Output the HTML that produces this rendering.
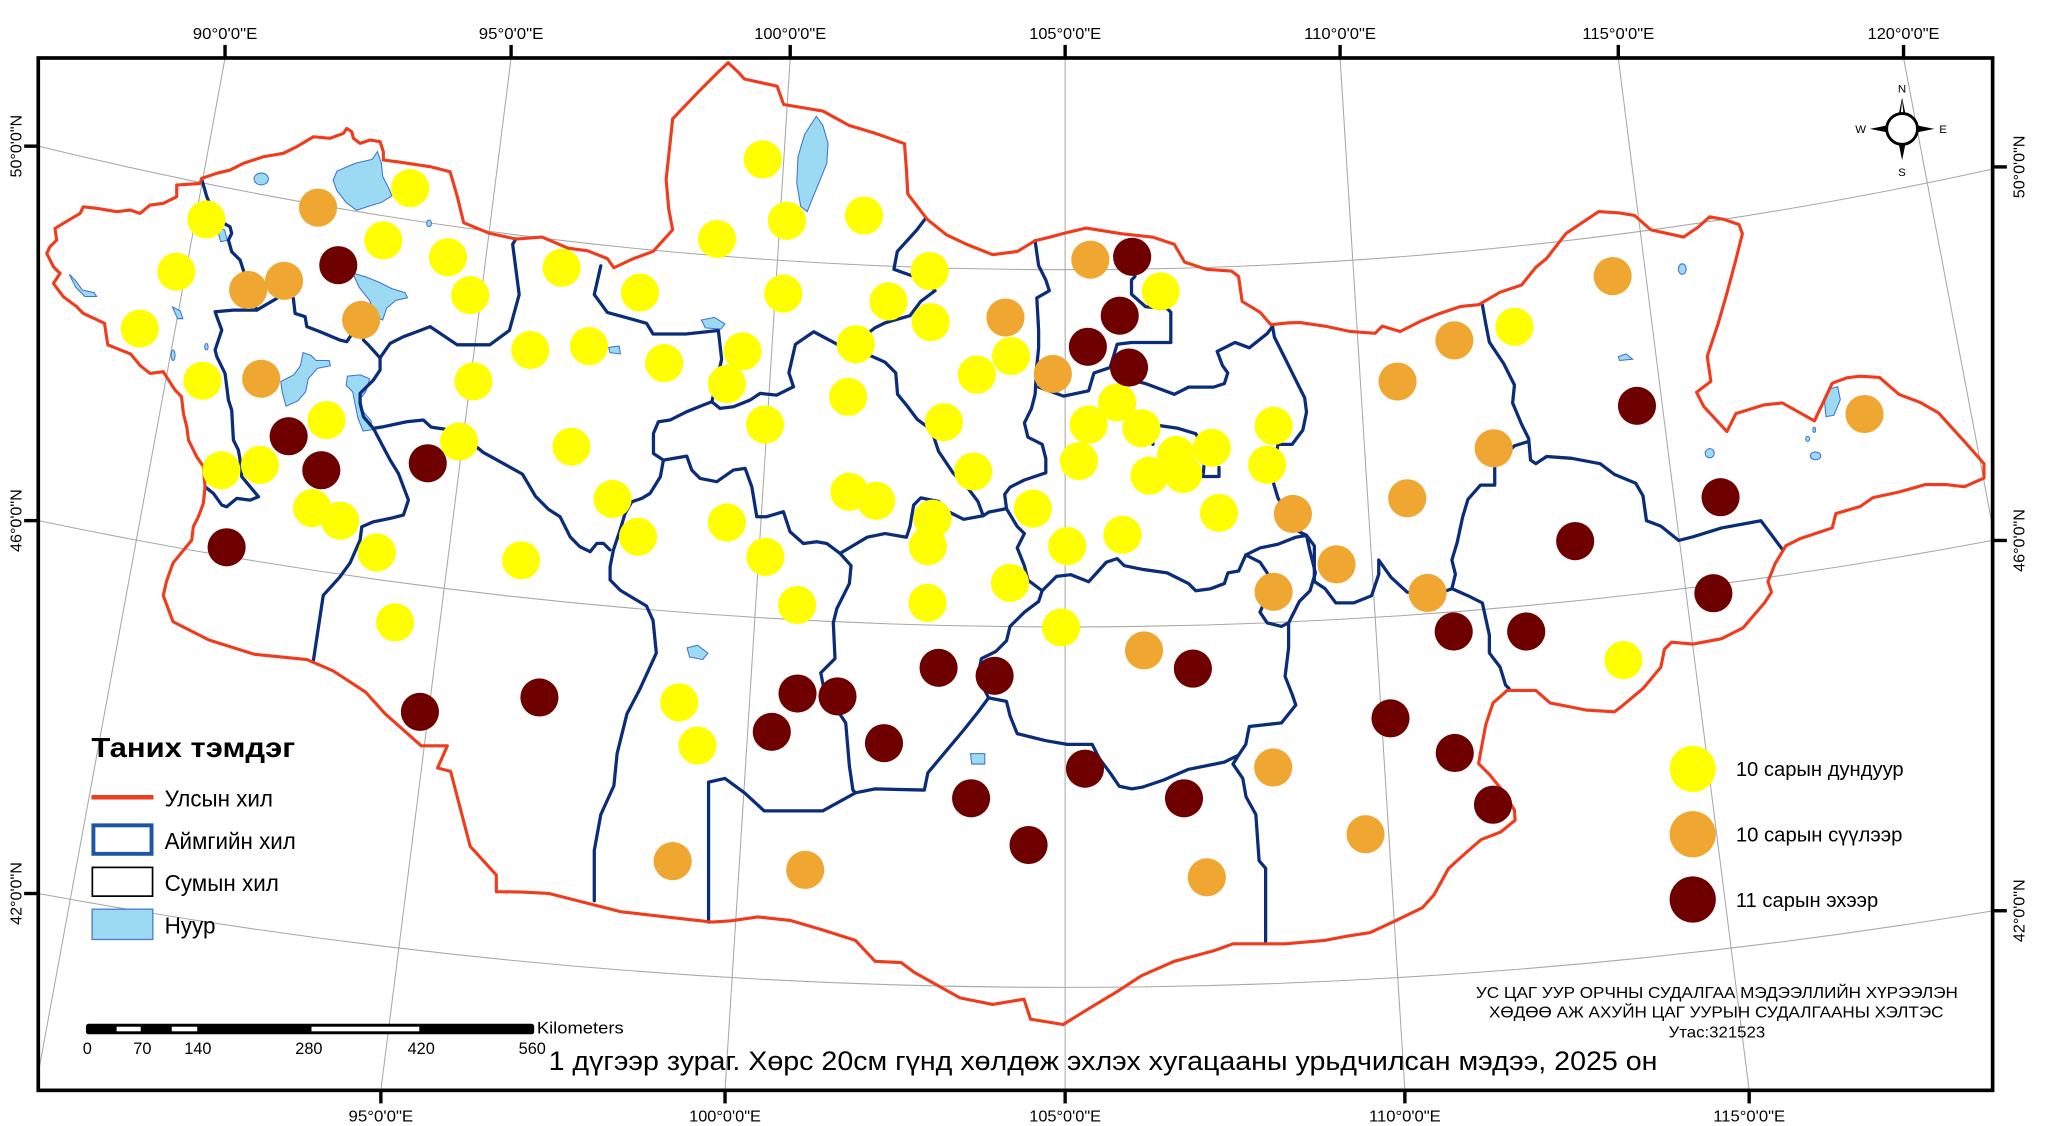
<!DOCTYPE html>
<html><head><meta charset="utf-8"><style>
html,body{margin:0;padding:0;background:#fff;}
svg{display:block;}
text{font-family:"Liberation Sans",Arial,sans-serif;fill:#000;}
</style></head><body>
<svg xmlns="http://www.w3.org/2000/svg" width="2048" height="1126" viewBox="0 0 1568 862.1" preserveAspectRatio="none">
<defs><clipPath id="fr"><rect x="29.3" y="44.4" width="1496.3" height="790.4"/></clipPath></defs>
<rect x="0" y="0" width="1568" height="862.1" fill="#fff"/>
<g clip-path="url(#fr)" stroke="#a8a8a8" stroke-width="0.8" fill="none">
<line x1="172.3" y1="44.4" x2="26.9" y2="834.8"/>
<line x1="391.3" y1="44.4" x2="291.6" y2="834.8"/>
<line x1="605" y1="44.4" x2="555.1" y2="834.8"/>
<line x1="815.5" y1="44.4" x2="815.5" y2="834.8"/>
<line x1="1026" y1="44.4" x2="1075.6" y2="834.8"/>
<line x1="1239" y1="44.4" x2="1339.2" y2="834.8"/>
<line x1="1457.4" y1="44.4" x2="1607.6" y2="834.8"/>
<path d="M 29.3 111.9 A 3314 3314 0 0 0 1525.6 129.5"/>
<path d="M 29.3 398.6 A 3837 3837 0 0 0 1525.6 413.7"/>
<path d="M 29.3 684.1 A 4334 4334 0 0 0 1525.6 697.4"/>
</g>
<g fill="#9cd9f2" stroke="#3f73cf" stroke-width="0.8">
<path d="M258 131 L272 125 L285 122 L289 116 L292 125 L293 135 L298 145 L300 150 L292 155 L282 158 L273 161 L265 155 L258 146 L255 138 Z"/>
<path d="M625 89 L630 96 L634 110 L633 125 L627 140 L622 152 L618 162 L613 158 L610 140 L611 120 L616 103 Z"/>
<path d="M270 209 L280 212 L290 216 L300 221 L310 224 L312 228 L303 230 L296 236 L293 245 L288 243 L283 230 L275 220 Z"/>
<path d="M232 270 L238 272 L242 276 L252 276 L253 280 L243 282 L236 290 L234 300 L228 307 L219 311 L216 300 L215 292 L225 287 L230 280 Z"/>
<path d="M266 288 L276 287 L283 290 L280 300 L276 305 L278 315 L284 322 L285 329 L278 330 L274 320 L270 300 L265 295 Z"/>
<ellipse cx="200" cy="137" rx="5.5" ry="4.5"/>
<path d="M166 174 L172 176 L174 184 L169 185 Z"/>
<path d="M537 245 L547 243 L555 248 L552 252 L540 251 Z"/>
<path d="M466 266 L474 265 L475 271 L467 270 Z"/>
<path d="M526 496 L534 494 L542 500 L538 505 L528 503 Z"/>
<path d="M743 577 L754 577 L754 585 L744 585 Z"/>
<path d="M1400 298 L1407 296 L1409 306 L1404 318 L1398 319 L1397 308 Z"/>
<path d="M1239 273 L1245 271 L1250 275 L1240 276 Z"/>
<ellipse cx="1288" cy="206" rx="3" ry="4"/>
<ellipse cx="1309" cy="347" rx="3.5" ry="3.5"/>
<ellipse cx="1390" cy="349" rx="4" ry="3"/>
<ellipse cx="1384" cy="336" rx="1.5" ry="2"/>
<ellipse cx="1389" cy="329" rx="1" ry="2"/>
<path d="M53 210 L58 215 L63 222 L72 224 L74 227 L65 227 L58 220 Z"/>
<path d="M132 235 L138 238 L140 244 L136 244 Z"/>
<ellipse cx="132.5" cy="272" rx="1.5" ry="4"/>
<ellipse cx="158" cy="265.5" rx="1.3" ry="2.5"/>
<ellipse cx="328.5" cy="171" rx="1.8" ry="2.5"/>
</g>
<g fill="none" stroke="#0b2d79" stroke-width="2.5" stroke-linejoin="round" stroke-linecap="round">
<polyline points="154.4,137 158.3,150.6 166,168 176.1,173.6 177.4,178.7 174.9,183.8 177.4,192.7 183.8,199.1 186.3,206.8 190,222 196.6,237.4 178.7,237.4 164.7,238.7 166,242.5 169.8,252.7 164.7,268 166,273.1 172.3,285.9 174.9,306.3 177.4,314 178.7,336.9 182.5,344.6 183.8,352.2 185.1,365 197.9,380.3 191.5,382.9 181.3,381.6 173.6,388 169.8,386.7 163.4,377.8 157,372.7"/>
<polyline points="196.6,237.4 211.9,228.5 217.7,215 224.6,228.5 225.9,240 233.6,242.5 234.9,250.1 245.1,254 260.4,260.4 265.5,261.6 268,257.8 277,248 278.3,260.4 282.1,264.2 291,274 298.7,262.9 308.9,257.8 319.1,254 329.3,250.1 350,264 375,264 390,253 397.5,225.5 392.5,187 395,183"/>
<polyline points="291,274 291,283.3 285.9,291 275.7,301.2 275.7,308.9 278.3,319.1 285.9,328 293.6,326.7 311.4,322.9 324.2,321.6 330,327 350,330 370,346.4 400,363 410,380 420,390 428.8,395.6 436.5,411 444,418.6 451.8,422.4 457,416 462,416 467,421"/>
<polyline points="285.9,328 298.7,352.2 305,362.4 308.9,372.7 312.7,382.9 308.9,394.3 298.7,396.9 285.9,399.5 277,403.3 275.7,413.5 268,431 260,442 247.5,455.8 245,472.3 240,505.3"/>
<polyline points="460,203.5 455,225.5 465,239.2 495,247.5 500,255.7 525,255.7 550,253 552.5,275 548,295 545,307.6"/>
<polyline points="607.5,296.1 604,285.5 609,263.6 623,254 641,263.6 655,266 665.3,271.8"/>
<polyline points="708,168 702,176 687,192.5 684.4,206.2 699.5,211.6 710.4,217.1 715.9,222.6 704.9,230.8 696.7,241.7 677.6,247.2 669.4,251.3 661,258 655,266"/>
<polyline points="665.3,271.8 677.6,277.3 685.8,285.5 687.2,301.9 694,310.1 702.2,321 713.2,329.2 715.9,337.4 718.6,345.6 729.6,362 740.5,373 748.7,383.9 752.8,394.9"/>
<polyline points="607.5,296.1 594.7,302.5 582,301.2 574.3,306.3 561.5,311.4 551.3,312.7 545,307.6 538.5,310.1 525.8,315.2 513,321.6 504.1,322.9 500.3,331.8 500.3,347.2 507.9,352.3 525.8,349.2 529.6,359.9 536,366.3 548.8,368.8 561.5,359.9 570.5,358.6 575.6,372.7 579.4,395.6 587,395.6 599.8,391.8 604.9,407.1 615.1,416.1 625.3,414.8 633,416.1 643.2,423.7 664,411.3 677.6,408.5 694,411.3 696.7,403.1 699.5,386.7 705,381.2 718.6,383.9 726.8,392.1 737.8,397.6 752.8,394.9 757,392.1 770.6,389.4"/>
<polyline points="792.5,184.3 795.2,203.4 800.7,214.4 803.4,222.6 793.8,228.1 795.2,252.7 795.2,266.3 793.8,280 792.5,301.9 789.7,312.8 784.3,323.8 787,334.7 797.9,340.2 800.7,351.1 800.7,362 784.3,367.5 773.3,373 769.2,378.5 770.6,389.4 778.8,403.1 784.3,408.5 778.8,419.5 784.3,433.1 787,444.1 797.9,452.3 808.9,441.3 819.8,440 833.5,445.4 847.1,430.4 855.3,427.7 860.8,433.1 874.5,435.9 893.6,438.6 910,446.8 915.5,452.3 926.4,450.9 937.4,446.8 940.1,438.6 948.3,437.2 953.8,424.9 964.7,419.5 978.4,416.7 992.1,411.3 1000.3,409.9"/>
<polyline points="797.9,452.3 795.2,460.5 784.3,468.7 773.3,479.6 770.6,490.6 762.4,498.8 751.4,504.2 748.7,517.9 756.9,534.3 770.6,537 773.3,548 778.8,561.7 800.7,567.1 817.1,569.9 836.2,569.9 841.7,580.8 849.9,591.7 857,602 866.5,604 874.5,602.7 890.9,597.2 910,589 937.4,583.5 948.3,578.1 953.8,569.9 956.5,556.2 981.1,553.5 992.1,539.8 989.3,531.6 983.9,517.9 986.6,496 986.6,476.9 981.1,479.6 970.2,476.9 964.7,468.7 972.9,449.5 970.2,438.6 964.7,430.4 953.8,424.9"/>
<polyline points="756.9,534.3 748.7,545.3 737.8,559 724.1,575.3 710.4,591.7 707.7,604.9 670,604 655,607 630,620.8 585,620.8 570,607 555,596 542.5,598.8 542.5,706"/>
<polyline points="643.2,423.7 651.6,433.1 650.3,446.8 640.7,466 638,476.9 639.3,504.2 628.4,515.2 631.1,528.8 642.1,545.3 647.5,553.5 650.3,586.3 653,604.9 655,607"/>
<polyline points="507.9,352.3 505.6,365 497.7,377.8 491.3,381.6 483.7,384.2 478.6,393.1 474.7,405.9 469.6,421.2 467.1,434 467.1,444 475,452 495,464 500,475 502.5,500 490,527.4 480,546.6 472.5,576.8 470,601.6 460,623.6 455,651.1 455,689.6"/>
<polyline points="948.3,578.1 944,585 951.5,596 954,610 961.5,623.6 964,659 969,664.8 969,722.6"/>
<polyline points="974.3,249.9 975.7,258.1 983.9,274.5 992.1,291 998.9,304.6 1000.3,315.6 997.5,329.2 989.3,340.2 978.4,340.2 974.3,367.5 978.4,381.2 992.1,405.8 1000.3,409.9 1003,422.2 1007.1,438.6 1003,452.3 994.8,460.5 986.6,476.9"/>
<polyline points="1000.3,409.9 1006.3,417.9 1006.3,445.2 1014.5,450.7 1022.7,461.6 1036.4,461.6 1050.1,456.1 1055.6,439.7 1055.6,428.8 1065,442 1077.4,453.4 1100,455 1111.6,450.7"/>
<polyline points="1155.4,527.2 1152.7,524.5 1148.5,510.8 1140.3,499.9 1140.3,486.2 1134.9,461.6 1123.9,456.1 1111.6,450.7 1114.3,439.7 1111.6,428.8 1115.7,415.1 1119.8,396 1123.9,382.3 1133.5,371.4 1144.4,371.4 1144.4,356 1159.5,341.3 1170.4,338"/>
<polyline points="1134.9,233.3 1137.6,248.3 1140.3,262 1151.3,278.4 1159.5,294.8 1158.1,308.5 1165,324.9 1170.4,335.8 1171.8,352.2 1175.9,355 1184.1,349.5 1203.2,350.9 1225.1,355 1236,363.2 1252.4,370 1257.9,379.6 1260.6,398.7 1271.6,402.8 1285.3,413.8 1296.2,411 1318.1,404.2 1348.2,398.7 1364.6,420.6"/>
<polyline points="866,200 869,211.7 866.3,214.4 866.3,225.3 877.2,234.9 893.6,236.3 896.4,239 896.4,262.2 882.7,262.2 866.3,262.2 855.3,263.6 849.9,281.4 837.6,285.5 833.5,299.2 814.3,303.3 795.2,296.4"/>
<polyline points="974.3,249.9 970.2,255.4 956.5,266.3 945.6,262.2 931.9,269.1 936,280 940,285.5 937.4,293.7 929.2,296.4 910,296.4 899.1,301.9 877.2,293.7 866.3,291 858,289"/>
<polyline points="882.7,340.2 882.7,325.1 901.8,327.9 915.5,332 923,345 921,364.8 933.3,364.8 933.3,357.9"/>
</g>
<polygon fill="none" stroke="#f03c1c" stroke-width="2.4" stroke-linejoin="round" points="35.8,194 38.3,188.9 43.4,183.8 42.1,174.9 48.5,171 61.3,163.4 63.8,158.3 74,159.5 89.4,162.1 99.6,160.8 107.2,163.4 114.9,157 125.1,155.7 135.3,150.6 135.3,141.7 153.2,140.4 154.4,136.6 165.9,132.7 176.1,130.2 186.3,125.1 201.7,120 217,117.4 227.2,112.3 240,104.7 252.7,105.9 262.9,102.1 265.5,98.3 269.3,100.8 270.6,105.9 275.7,109.8 283.3,107.2 291,108.5 293.5,116.2 293.5,122.5 303.7,123.8 329.3,127.6 344.6,131.5 350,150 355,170.5 375,178.7 395,183 415,181.5 435,190 450,192 465,198 470,205 485,198 500,192.5 515,176 512,160 510,137.5 513,110 515,91 535,70 550,55 557.5,48 565,55 570,60.5 595,66 600,80 630,85 650,96 670,102 692.5,110 694,130 695,148.5 710,168 725,180 740,187 760,195 779,192.5 792.5,184.3 804,181.5 814,178.8 831.5,174.6 859,179 882.7,181.6 899,187 907,200.7 923.7,206.2 942.8,207.5 948.3,211.7 951,230.8 964.7,239 973,248.6 986.6,247.2 995.4,247 1014.5,249.7 1033.7,253.8 1052.8,255.2 1058.3,249.7 1072,253.8 1088.4,245.6 1102,240.1 1118.5,234.6 1132.1,233.3 1148.5,223.7 1165,218.2 1175.9,204.6 1184,198 1199,178.7 1224,162 1240,163 1251.5,165 1264,176 1289,181.5 1300,174 1309,166 1320,168 1331.5,172 1334,179 1329,199 1322,225 1315.3,248.3 1307.1,272.9 1309.9,292 1298.9,300.3 1304.4,311.2 1322.2,330.4 1329,316.7 1350.9,309.9 1364.6,308.5 1389.2,322.2 1402.8,293.4 1413.8,289.3 1424.2,288 1439,289 1454,302 1470,308 1484,316 1504,338 1519,355 1519,366 1504,372.6 1490,371 1474,371 1454,376.7 1434,381 1424.2,387.8 1405.6,393.2 1402.8,404.2 1378.2,412.4 1367.3,417.9 1359.1,431.5 1353.6,445.2 1356.3,453.4 1350.9,461.6 1334.5,480.7 1318.1,489 1296.2,493.1 1279.8,491.7 1274.3,497.2 1271.6,510.8 1257.9,527.2 1241.5,540.9 1236,545 1214.2,543.6 1186.8,538.2 1175.9,528.6 1154,528.6 1143.1,538.2 1137.6,554.6 1133.5,576.5 1132.1,584.7 1140.3,592.9 1151.3,606.5 1159.5,620.2 1160,628 1149,637 1134,642.8 1120,655 1109,665 1098,685 1089,695 1069,704.7 1049,714 1030,717 1014,720 984,722.6 969,722.6 944,722.6 929,728 899,736 874,747 854,760 834,772 814,784.4 789,780.3 784,765 760,769 735,764 700,744.5 690,737 670,736 655,720 630,712 605,704.7 580,702 560,705 545,706 510,702 475,698 420,684 400,683 380,682.7 380,670 360,648 345,590.6 335,588 342.5,571 322.5,571 295,546.6 280,530 255,513.6 235,505 195,501 160,490 132.5,476 125,456 127.5,445 132.5,431 146.8,413.5 148,403.3 151.9,395.6 155.7,385.4 157,372.7 155.7,357.3 150.6,349.7 144.3,336.9 143,326.7 140.4,316.5 139,303.7 134,298.6 125,284.6 114.9,285.9 107.5,280 100,271 82.5,264 80,247.5 63.8,240 58.7,234.8 48.5,227.2 40.9,217 46,209.3 40.9,204.2"/>
<g fill="#ffff00">
<circle cx="314" cy="144" r="14.6"/><circle cx="158" cy="168" r="14.6"/><circle cx="293.5" cy="184" r="14.6"/><circle cx="343" cy="197" r="14.6"/><circle cx="135" cy="208" r="14.6"/><circle cx="360" cy="226" r="14.6"/><circle cx="430" cy="205" r="14.6"/><circle cx="107" cy="251.6" r="14.6"/><circle cx="490" cy="224" r="14.6"/><circle cx="584" cy="122" r="14.6"/><circle cx="602.5" cy="169" r="14.6"/><circle cx="661.5" cy="165" r="14.6"/><circle cx="549" cy="183" r="14.6"/><circle cx="711.8" cy="207.5" r="14.6"/><circle cx="599.7" cy="224.8" r="14.6"/><circle cx="680.3" cy="230.8" r="14.6"/><circle cx="712.6" cy="246.6" r="14.6"/><circle cx="406" cy="268" r="14.6"/><circle cx="451" cy="265" r="14.6"/><circle cx="508.5" cy="278" r="14.6"/><circle cx="568.5" cy="269" r="14.6"/><circle cx="556.5" cy="294" r="14.6"/><circle cx="655.2" cy="263.6" r="14.6"/><circle cx="649.4" cy="303.8" r="14.6"/><circle cx="747.9" cy="286.8" r="14.6"/><circle cx="774.1" cy="272.6" r="14.6"/><circle cx="155" cy="291.5" r="14.6"/><circle cx="362.5" cy="292" r="14.6"/><circle cx="250" cy="321.7" r="14.6"/><circle cx="585.7" cy="325.1" r="14.6"/><circle cx="722.7" cy="323.2" r="14.6"/><circle cx="351.5" cy="338" r="14.6"/><circle cx="437.5" cy="342" r="14.6"/><circle cx="169.5" cy="360" r="14.6"/><circle cx="199" cy="356" r="14.6"/><circle cx="745.2" cy="361" r="14.6"/><circle cx="469" cy="382" r="14.6"/><circle cx="650.3" cy="376.5" r="14.6"/><circle cx="670.8" cy="383.4" r="14.6"/><circle cx="239" cy="389" r="14.6"/><circle cx="260.5" cy="398.7" r="14.6"/><circle cx="556.5" cy="400" r="14.6"/><circle cx="714" cy="397.1" r="14.6"/><circle cx="710.4" cy="418.1" r="14.6"/><circle cx="488.5" cy="411" r="14.6"/><circle cx="288.5" cy="423" r="14.6"/><circle cx="399" cy="429" r="14.6"/><circle cx="586" cy="426.3" r="14.6"/><circle cx="302.5" cy="476.5" r="14.6"/><circle cx="610.3" cy="463.2" r="14.6"/><circle cx="710.1" cy="461.6" r="14.6"/><circle cx="773.3" cy="446.3" r="14.6"/><circle cx="520" cy="537.8" r="14.6"/><circle cx="534" cy="570.8" r="14.6"/><circle cx="888.7" cy="223.1" r="14.6"/><circle cx="855.3" cy="308.2" r="14.6"/><circle cx="833.5" cy="325.1" r="14.6"/><circle cx="873.9" cy="327.9" r="14.6"/><circle cx="826.1" cy="353" r="14.6"/><circle cx="880" cy="364.2" r="14.6"/><circle cx="900.5" cy="348.4" r="14.6"/><circle cx="927.8" cy="342.9" r="14.6"/><circle cx="905.9" cy="362.9" r="14.6"/><circle cx="975.1" cy="326" r="14.6"/><circle cx="970.2" cy="355.8" r="14.6"/><circle cx="790.8" cy="389.4" r="14.6"/><circle cx="933.3" cy="392.7" r="14.6"/><circle cx="859.4" cy="409.4" r="14.6"/><circle cx="817.1" cy="418.1" r="14.6"/><circle cx="1159.5" cy="250.2" r="14.6"/><circle cx="812.4" cy="480.4" r="14.6"/><circle cx="1242.9" cy="505.4" r="14.6"/>
</g>
<g fill="#f0a732">
<circle cx="243.5" cy="159" r="14.6"/><circle cx="190" cy="222" r="14.6"/><circle cx="217.5" cy="215" r="14.6"/><circle cx="276.5" cy="245" r="14.6"/><circle cx="200" cy="290" r="14.6"/><circle cx="769.8" cy="243.1" r="14.6"/><circle cx="515" cy="659.3" r="14.6"/><circle cx="616.5" cy="666" r="14.6"/><circle cx="834.8" cy="198.8" r="14.6"/><circle cx="806.1" cy="286.3" r="14.6"/><circle cx="989.9" cy="393.5" r="14.6"/><circle cx="1023.3" cy="432.1" r="14.6"/><circle cx="1113.5" cy="260.6" r="14.6"/><circle cx="1070" cy="292.1" r="14.6"/><circle cx="1234.7" cy="211.4" r="14.6"/><circle cx="1143.6" cy="343.2" r="14.6"/><circle cx="1077.4" cy="381.5" r="14.6"/><circle cx="1427.5" cy="317" r="14.6"/><circle cx="975.1" cy="453.1" r="14.6"/><circle cx="1093" cy="454" r="14.6"/><circle cx="875.9" cy="498" r="14.6"/><circle cx="974.8" cy="587.6" r="14.6"/><circle cx="1045.5" cy="638.7" r="14.6"/><circle cx="924" cy="671.7" r="14.6"/>
</g>
<g fill="#6f0000">
<circle cx="259" cy="203" r="14.6"/><circle cx="221" cy="334" r="14.6"/><circle cx="327.5" cy="354.7" r="14.6"/><circle cx="246" cy="360" r="14.6"/><circle cx="173.5" cy="419" r="14.6"/><circle cx="321.5" cy="545" r="14.6"/><circle cx="413" cy="534" r="14.6"/><circle cx="610.6" cy="531" r="14.6"/><circle cx="641.2" cy="533.2" r="14.6"/><circle cx="590.9" cy="560.3" r="14.6"/><circle cx="718.6" cy="511.3" r="14.6"/><circle cx="761.5" cy="517.4" r="14.6"/><circle cx="676.8" cy="569" r="14.6"/><circle cx="743.5" cy="611.2" r="14.6"/><circle cx="787.5" cy="647" r="14.6"/><circle cx="866.8" cy="196.6" r="14.6"/><circle cx="857.3" cy="241.7" r="14.6"/><circle cx="832.9" cy="265.5" r="14.6"/><circle cx="864.4" cy="281.4" r="14.6"/><circle cx="1253.3" cy="310.7" r="14.6"/><circle cx="1317.3" cy="380.7" r="14.6"/><circle cx="1206" cy="414.3" r="14.6"/><circle cx="1311.8" cy="454.2" r="14.6"/><circle cx="913.3" cy="511.9" r="14.6"/><circle cx="1113" cy="483.5" r="14.6"/><circle cx="1168.5" cy="483.5" r="14.6"/><circle cx="1064.6" cy="550" r="14.6"/><circle cx="1113.8" cy="576.5" r="14.6"/><circle cx="1143.1" cy="616.1" r="14.6"/><circle cx="830.7" cy="588.5" r="14.6"/><circle cx="906.5" cy="611.2" r="14.6"/>
</g>
<!-- legend left -->
<text x="70" y="579.6" font-size="21" font-weight="bold" textLength="156" lengthAdjust="spacingAndGlyphs">Таних тэмдэг</text>
<line x1="70" y1="610.4" x2="117.5" y2="610.4" stroke="#f03c1c" stroke-width="3.4"/>
<rect x="71.5" y="631.9" width="44.5" height="21.8" fill="#fff" stroke="#1d55a5" stroke-width="3"/>
<rect x="70.7" y="664.1" width="46.1" height="22" fill="#fff" stroke="#000" stroke-width="1.3"/>
<rect x="70.5" y="696.1" width="46.5" height="23.2" fill="#9cd9f2" stroke="#4b7bd0" stroke-width="1"/>
<text x="126" y="617.5" font-size="17.6" textLength="83" lengthAdjust="spacingAndGlyphs">Улсын хил</text>
<text x="126" y="649.9" font-size="17.6" textLength="100.5" lengthAdjust="spacingAndGlyphs">Аймгийн хил</text>
<text x="126" y="682.1" font-size="17.6" textLength="87.5" lengthAdjust="spacingAndGlyphs">Сумын хил</text>
<text x="126" y="714.6" font-size="17.6" textLength="39" lengthAdjust="spacingAndGlyphs">Нуур</text>
<!-- legend right -->
<circle cx="1296" cy="588.7" r="17.7" fill="#ffff00"/>
<circle cx="1296" cy="638.7" r="17.7" fill="#f0a732"/>
<circle cx="1296" cy="688.7" r="17.7" fill="#6f0000"/>
<text x="1329" y="594.3" font-size="15.3" textLength="128.5" lengthAdjust="spacingAndGlyphs">10 сарын дундуур</text>
<text x="1329" y="644.3" font-size="15.3" textLength="127.5" lengthAdjust="spacingAndGlyphs">10 сарын сүүлээр</text>
<text x="1329" y="694.3" font-size="15.3" textLength="109" lengthAdjust="spacingAndGlyphs">11 сарын эхээр</text>
<!-- scale bar -->
<rect x="65.8" y="783.8" width="343.2" height="8.1" rx="2" fill="#000"/>
<rect x="89.3" y="786.1" width="18.4" height="3.5" fill="#fff"/>
<rect x="131.5" y="786.1" width="19.5" height="3.5" fill="#fff"/>
<rect x="238.5" y="786.1" width="82.5" height="3.5" fill="#fff"/>
<g font-size="12.5" text-anchor="middle">
<text x="66.8" y="806.9">0</text><text x="109" y="806.9">70</text><text x="151.5" y="806.9">140</text><text x="236.5" y="806.9">280</text><text x="322.5" y="806.9">420</text><text x="407.5" y="806.9">560</text>
</g>
<text x="411" y="791.1" font-size="12.5" textLength="66.5" lengthAdjust="spacingAndGlyphs">Kilometers</text>
<!-- title -->
<text x="420" y="819.2" font-size="20.3" textLength="849" lengthAdjust="spacingAndGlyphs">1 дүгээр зураг. Хөрс 20см гүнд хөлдөж эхлэх хугацааны урьдчилсан мэдээ, 2025 он</text>
<g font-size="12.3">
<text x="1130" y="764.1" textLength="369" lengthAdjust="spacingAndGlyphs">УС ЦАГ УУР ОРЧНЫ СУДАЛГАА МЭДЭЭЛЛИЙН ХҮРЭЭЛЭН</text>
<text x="1140" y="779.2" textLength="348" lengthAdjust="spacingAndGlyphs">ХӨДӨӨ АЖ АХУЙН ЦАГ УУРЫН СУДАЛГААНЫ ХЭЛТЭС</text>
<text x="1277.5" y="794.3" textLength="74" lengthAdjust="spacingAndGlyphs">Утас:321523</text>
</g>
<!-- compass -->
<g>
<polygon points="1456.3,74.7 1453.8,87 1458.8,87" fill="#000"/>
<polygon points="1456.3,122.7 1453.8,110.4 1458.8,110.4" fill="#000"/>
<polygon points="1431.6,98.7 1444,96.2 1444,101.2" fill="#000"/>
<polygon points="1481,98.7 1468.6,96.2 1468.6,101.2" fill="#000"/>
<polygon points="1456.3,77 1455.3,87 1457.3,87" fill="#fff"/>
<circle cx="1456.3" cy="98.7" r="11.8" fill="#fff" stroke="#000" stroke-width="2.2"/>
<g font-size="8.8" text-anchor="middle">
<text x="1456.2" y="70.8">N</text><text x="1456.2" y="134.8">S</text><text x="1424.6" y="101.9">W</text><text x="1487.7" y="101.9">E</text>
</g>
</g>
<!-- frame and ticks -->
<rect x="29.3" y="44.4" width="1496.3" height="790.4" fill="none" stroke="#000" stroke-width="2.8"/>
<g stroke="#000" stroke-width="2.6">
<line x1="172.3" y1="34.4" x2="172.3" y2="44.4"/><line x1="391.3" y1="34.4" x2="391.3" y2="44.4"/><line x1="605" y1="34.4" x2="605" y2="44.4"/><line x1="815.5" y1="34.4" x2="815.5" y2="44.4"/><line x1="1026" y1="34.4" x2="1026" y2="44.4"/><line x1="1239" y1="34.4" x2="1239" y2="44.4"/><line x1="1457.4" y1="34.4" x2="1457.4" y2="44.4"/>
<line x1="291.6" y1="834.8" x2="291.6" y2="844.8"/><line x1="555.1" y1="834.8" x2="555.1" y2="844.8"/><line x1="815.5" y1="834.8" x2="815.5" y2="844.8"/><line x1="1075.6" y1="834.8" x2="1075.6" y2="844.8"/><line x1="1339.2" y1="834.8" x2="1339.2" y2="844.8"/>
<line x1="18.5" y1="111.9" x2="29.3" y2="111.9"/><line x1="18.5" y1="398.6" x2="29.3" y2="398.6"/><line x1="18.5" y1="684.1" x2="29.3" y2="684.1"/>
<line x1="1525.6" y1="127.8" x2="1536.5" y2="127.8"/><line x1="1525.6" y1="413.8" x2="1536.5" y2="413.8"/><line x1="1525.6" y1="697.3" x2="1536.5" y2="697.3"/>
</g>
<g font-size="12" text-anchor="middle">
<text x="172.3" y="29.7" textLength="49.5" lengthAdjust="spacingAndGlyphs">90°0'0"E</text>
<text x="391.3" y="29.7" textLength="49.5" lengthAdjust="spacingAndGlyphs">95°0'0"E</text>
<text x="605" y="29.7" textLength="55" lengthAdjust="spacingAndGlyphs">100°0'0"E</text>
<text x="815.5" y="29.7" textLength="55" lengthAdjust="spacingAndGlyphs">105°0'0"E</text>
<text x="1026" y="29.7" textLength="55" lengthAdjust="spacingAndGlyphs">110°0'0"E</text>
<text x="1239" y="29.7" textLength="55" lengthAdjust="spacingAndGlyphs">115°0'0"E</text>
<text x="1457.4" y="29.7" textLength="55" lengthAdjust="spacingAndGlyphs">120°0'0"E</text>
<text x="291.6" y="858.8" textLength="49.5" lengthAdjust="spacingAndGlyphs">95°0'0"E</text>
<text x="555.1" y="858.8" textLength="55" lengthAdjust="spacingAndGlyphs">100°0'0"E</text>
<text x="815.5" y="858.8" textLength="55" lengthAdjust="spacingAndGlyphs">105°0'0"E</text>
<text x="1075.6" y="858.8" textLength="55" lengthAdjust="spacingAndGlyphs">110°0'0"E</text>
<text x="1339.2" y="858.8" textLength="55" lengthAdjust="spacingAndGlyphs">115°0'0"E</text>
<text transform="translate(12,111.9) rotate(-90)" y="4.3" textLength="48" lengthAdjust="spacingAndGlyphs">50°0'0"N</text>
<text transform="translate(12,398.6) rotate(-90)" y="4.3" textLength="48" lengthAdjust="spacingAndGlyphs">46°0'0"N</text>
<text transform="translate(12,684.1) rotate(-90)" y="4.3" textLength="48" lengthAdjust="spacingAndGlyphs">42°0'0"N</text>
<text transform="translate(1545.8,127.8) rotate(-90)" y="4.3" textLength="48" lengthAdjust="spacingAndGlyphs">50°0'0"N</text>
<text transform="translate(1545.8,413.8) rotate(-90)" y="4.3" textLength="48" lengthAdjust="spacingAndGlyphs">46°0'0"N</text>
<text transform="translate(1545.8,697.3) rotate(-90)" y="4.3" textLength="48" lengthAdjust="spacingAndGlyphs">42°0'0"N</text>
</g>
</svg>
</body></html>
